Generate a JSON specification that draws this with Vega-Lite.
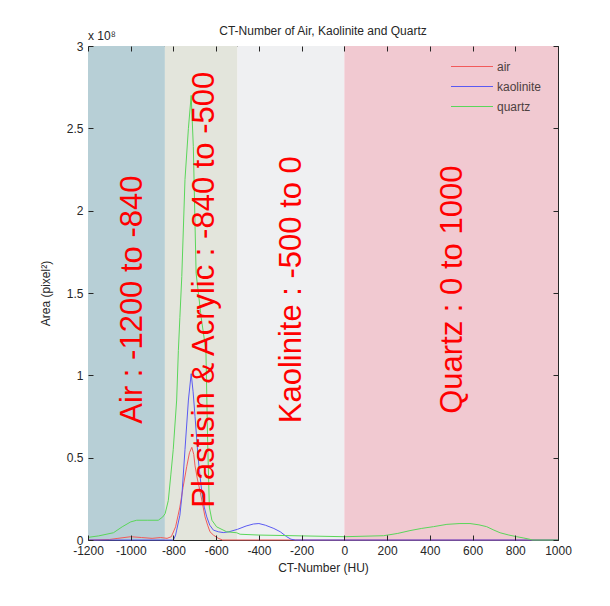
{
  "$schema": "https://vega.github.io/schema/vega-lite/v6.json",
  "width": 470,
  "height": 494,
  "autosize": "none",
  "padding": {"left": 88, "top": 46, "right": 52, "bottom": 66},
  "background": "white",
  "title": {"text": "CT-Number of Air, Kaolinite and Quartz", "fontSize": 12, "fontWeight": "normal", "font": "Liberation Sans", "color": "#262626", "offset": -8},
  "config": {
    "font": "Liberation Sans",
    "view": {"stroke": "#262626", "strokeWidth": 1},
    "axis": {"domain": false, "grid": false, "ticks": true, "offset": -5, "tickColor": "#262626", "tickWidth": 1, "tickSize": 5, "labelPadding": 5, "labelFontSize": 12, "labelColor": "#262626", "titleFontSize": 12, "titleFontWeight": "normal", "titleColor": "#262626", "labelFont": "Liberation Sans", "titleFont": "Liberation Sans"}
  },
  "datasets": {
    "regions": [
      {"region": "Air", "start": -1200, "end": -840},
      {"region": "Plastisin & Acrylic", "start": -840, "end": -500},
      {"region": "Kaolinite", "start": -500, "end": 0},
      {"region": "Quartz", "start": 0, "end": 1000}
    ],
    "labels": [
      {"label": "Air : -1200 to -840", "hu": -989, "area": 1.46},
      {"label": "Plastisin & Acrylic : -840 to -500", "hu": -652, "area": 1.52},
      {"label": "Kaolinite : -500 to 0", "hu": -245, "area": 1.52},
      {"label": "Quartz : 0 to 1000", "hu": 509, "area": 1.52}
    ],
    "notes": [
      {"note": "x 10⁸", "hu": -1200, "area": 3}
    ],
    "curves": [
      {"series": "air", "hu": -1200, "area": 0},
      {"series": "air", "hu": -1100, "area": 0.003},
      {"series": "air", "hu": -1060, "area": 0.01},
      {"series": "air", "hu": -1000, "area": 0.02},
      {"series": "air", "hu": -950, "area": 0.015},
      {"series": "air", "hu": -900, "area": 0.01},
      {"series": "air", "hu": -860, "area": 0.015},
      {"series": "air", "hu": -830, "area": 0.01},
      {"series": "air", "hu": -810, "area": 0.02},
      {"series": "air", "hu": -790, "area": 0.08},
      {"series": "air", "hu": -770, "area": 0.2},
      {"series": "air", "hu": -755, "area": 0.32},
      {"series": "air", "hu": -738, "area": 0.445},
      {"series": "air", "hu": -725, "area": 0.53},
      {"series": "air", "hu": -714, "area": 0.563},
      {"series": "air", "hu": -705, "area": 0.52},
      {"series": "air", "hu": -699, "area": 0.45},
      {"series": "air", "hu": -688, "area": 0.37},
      {"series": "air", "hu": -676, "area": 0.3},
      {"series": "air", "hu": -664, "area": 0.22},
      {"series": "air", "hu": -652, "area": 0.14},
      {"series": "air", "hu": -640, "area": 0.09},
      {"series": "air", "hu": -629, "area": 0.05},
      {"series": "air", "hu": -613, "area": 0.03},
      {"series": "air", "hu": -590, "area": 0.01},
      {"series": "air", "hu": -570, "area": 0},
      {"series": "air", "hu": -200, "area": 0},
      {"series": "air", "hu": 0, "area": 0},
      {"series": "air", "hu": 1000, "area": 0},
      {"series": "kaolinite", "hu": -1200, "area": 0},
      {"series": "kaolinite", "hu": -800, "area": 0},
      {"series": "kaolinite", "hu": -790, "area": 0.03},
      {"series": "kaolinite", "hu": -785, "area": 0.06},
      {"series": "kaolinite", "hu": -770, "area": 0.15},
      {"series": "kaolinite", "hu": -761, "area": 0.26},
      {"series": "kaolinite", "hu": -746, "area": 0.55},
      {"series": "kaolinite", "hu": -730, "area": 0.85},
      {"series": "kaolinite", "hu": -717, "area": 1.01},
      {"series": "kaolinite", "hu": -708, "area": 0.9},
      {"series": "kaolinite", "hu": -699, "area": 0.75},
      {"series": "kaolinite", "hu": -684, "area": 0.49},
      {"series": "kaolinite", "hu": -668, "area": 0.3},
      {"series": "kaolinite", "hu": -656, "area": 0.2},
      {"series": "kaolinite", "hu": -644, "area": 0.14},
      {"series": "kaolinite", "hu": -630, "area": 0.09},
      {"series": "kaolinite", "hu": -613, "area": 0.06},
      {"series": "kaolinite", "hu": -590, "area": 0.05},
      {"series": "kaolinite", "hu": -567, "area": 0.045},
      {"series": "kaolinite", "hu": -540, "area": 0.05},
      {"series": "kaolinite", "hu": -500, "area": 0.065},
      {"series": "kaolinite", "hu": -460, "area": 0.085},
      {"series": "kaolinite", "hu": -426, "area": 0.097},
      {"series": "kaolinite", "hu": -400, "area": 0.1},
      {"series": "kaolinite", "hu": -370, "area": 0.09},
      {"series": "kaolinite", "hu": -330, "area": 0.07},
      {"series": "kaolinite", "hu": -300, "area": 0.05},
      {"series": "kaolinite", "hu": -270, "area": 0.02},
      {"series": "kaolinite", "hu": -250, "area": 0.005},
      {"series": "kaolinite", "hu": -230, "area": 0},
      {"series": "kaolinite", "hu": 1000, "area": 0},
      {"series": "quartz", "hu": -1200, "area": 0.016},
      {"series": "quartz", "hu": -1150, "area": 0.025},
      {"series": "quartz", "hu": -1081, "area": 0.044},
      {"series": "quartz", "hu": -1040, "area": 0.08},
      {"series": "quartz", "hu": -1000, "area": 0.11},
      {"series": "quartz", "hu": -972, "area": 0.12},
      {"series": "quartz", "hu": -920, "area": 0.12},
      {"series": "quartz", "hu": -871, "area": 0.12},
      {"series": "quartz", "hu": -850, "area": 0.14},
      {"series": "quartz", "hu": -839, "area": 0.16},
      {"series": "quartz", "hu": -824, "area": 0.24},
      {"series": "quartz", "hu": -812, "area": 0.4},
      {"series": "quartz", "hu": -801, "area": 0.55},
      {"series": "quartz", "hu": -785, "area": 0.85},
      {"series": "quartz", "hu": -777, "area": 1.15},
      {"series": "quartz", "hu": -770, "area": 1.35},
      {"series": "quartz", "hu": -761, "area": 1.6},
      {"series": "quartz", "hu": -746, "area": 2.19},
      {"series": "quartz", "hu": -730, "area": 2.5},
      {"series": "quartz", "hu": -717, "area": 2.7},
      {"series": "quartz", "hu": -707, "area": 2.39},
      {"series": "quartz", "hu": -694, "area": 1.62},
      {"series": "quartz", "hu": -670, "area": 1.35},
      {"series": "quartz", "hu": -648, "area": 1.15},
      {"series": "quartz", "hu": -640, "area": 0.6},
      {"series": "quartz", "hu": -632, "area": 0.2},
      {"series": "quartz", "hu": -620, "area": 0.12},
      {"series": "quartz", "hu": -598, "area": 0.08},
      {"series": "quartz", "hu": -551, "area": 0.05},
      {"series": "quartz", "hu": -504, "area": 0.044},
      {"series": "quartz", "hu": -488, "area": 0.035},
      {"series": "quartz", "hu": -400, "area": 0.03},
      {"series": "quartz", "hu": -200, "area": 0.025},
      {"series": "quartz", "hu": 0, "area": 0.02},
      {"series": "quartz", "hu": 183, "area": 0.026},
      {"series": "quartz", "hu": 250, "area": 0.04},
      {"series": "quartz", "hu": 307, "area": 0.057},
      {"series": "quartz", "hu": 360, "area": 0.07},
      {"series": "quartz", "hu": 417, "area": 0.081},
      {"series": "quartz", "hu": 480, "area": 0.095},
      {"series": "quartz", "hu": 541, "area": 0.1},
      {"series": "quartz", "hu": 588, "area": 0.1},
      {"series": "quartz", "hu": 630, "area": 0.092},
      {"series": "quartz", "hu": 666, "area": 0.081},
      {"series": "quartz", "hu": 700, "area": 0.06},
      {"series": "quartz", "hu": 729, "area": 0.044},
      {"series": "quartz", "hu": 770, "area": 0.03},
      {"series": "quartz", "hu": 807, "area": 0.02},
      {"series": "quartz", "hu": 840, "area": 0.012},
      {"series": "quartz", "hu": 869, "area": 0.004},
      {"series": "quartz", "hu": 880, "area": 0},
      {"series": "quartz", "hu": 1000, "area": 0}
    ]
  },
  "resolve": {"axis": {"x": "independent", "y": "independent"}},
  "layer": [
    {
      "data": {"name": "regions"},
      "mark": {"type": "rect"},
      "encoding": {
        "x": {"field": "start", "type": "quantitative", "scale": {"domain": [-1200, 1000], "nice": false, "zero": false},
              "axis": {"orient": "bottom", "zindex": 2, "values": [-1200, -1000, -800, -600, -400, -200, 0, 200, 400, 600, 800, 1000], "labelExpr": "'' + datum.value", "title": "CT-Number (HU)", "titlePadding": 6, "labelFlush": false}},
        "x2": {"field": "end"},
        "fill": {"field": "region", "type": "nominal", "scale": {"domain": ["Air", "Plastisin & Acrylic", "Kaolinite", "Quartz"], "range": ["#b7cfd6", "#e3e5dc", "#eff0f2", "#f1c9d1"]}, "legend": null}
      }
    },
    {
      "data": {"name": "curves"},
      "mark": {"type": "line", "strokeWidth": 1},
      "encoding": {
        "x": {"field": "hu", "type": "quantitative", "axis": {"orient": "top", "zindex": 2, "values": [-1200, -1000, -800, -600, -400, -200, 0, 200, 400, 600, 800, 1000], "labels": false, "title": null}},
        "y": {"field": "area", "type": "quantitative", "scale": {"domain": [0, 3], "nice": false, "zero": true},
              "axis": {"orient": "left", "zindex": 2, "values": [0, 0.5, 1, 1.5, 2, 2.5, 3], "format": "~g", "title": "Area (pixel²)", "titlePadding": 14, "labelFlush": false}},
        "color": {"field": "series", "type": "nominal", "scale": {"domain": ["air", "kaolinite", "quartz"], "range": ["#f25a5a", "#5a5af2", "#5ad65a"]},
                   "legend": {"orient": "none", "legendX": 362, "legendY": 9, "title": null, "symbolType": "M-1,0H3", "symbolSize": 441, "symbolStrokeWidth": 1.2, "labelFontSize": 12, "labelColor": "#4d4040", "rowPadding": 2, "labelOffset": 24,
                              "encode": {"symbols": {"update": {"stroke": {"scale": "color", "field": "value"}, "fill": {"value": "transparent"}}}}}},
        "order": {"field": "hu", "type": "quantitative"}
      }
    },
    {
      "data": {"name": "labels"},
      "mark": {"type": "text", "angle": 270, "align": "center", "baseline": "middle", "fontSize": 31, "color": "#ff0000", "font": "Liberation Sans"},
      "encoding": {
        "x": {"field": "hu", "type": "quantitative", "axis": null},
        "y": {"field": "area", "type": "quantitative", "axis": {"orient": "right", "zindex": 2, "values": [0, 0.5, 1, 1.5, 2, 2.5, 3], "labels": false, "title": null}},
        "text": {"field": "label"}
      }
    },
    {
      "data": {"name": "notes"},
      "mark": {"type": "text", "align": "left", "baseline": "bottom", "dy": -3, "fontSize": 12, "color": "#262626", "font": "Liberation Sans"},
      "encoding": {
        "x": {"field": "hu", "type": "quantitative", "axis": null},
        "y": {"field": "area", "type": "quantitative", "axis": null},
        "text": {"field": "note"}
      }
    }
  ]
}
